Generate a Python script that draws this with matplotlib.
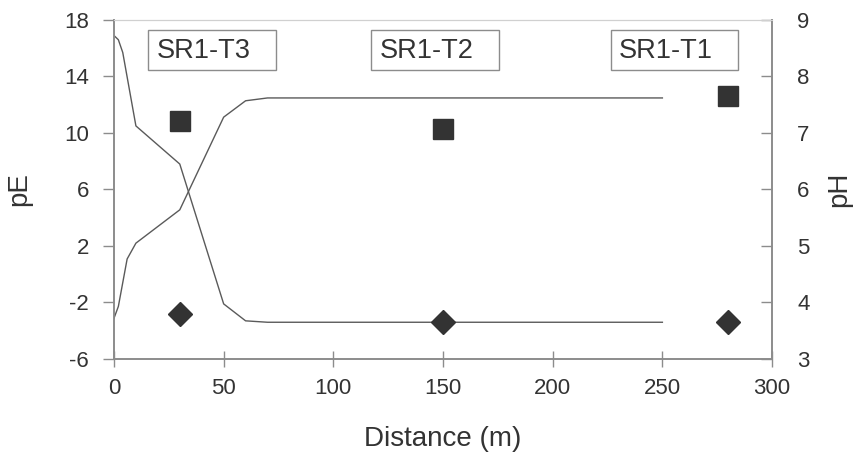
import matplotlib
matplotlib.use('Agg')
import matplotlib.pyplot as plt
from matplotlib.patches import Rectangle

plt.rcParams['font.family'] = ['Liberation Sans', 'DejaVu Sans']
plt.rcParams['axes.unicode_minus'] = False

# model curves
dist_pe = [0, 2, 4, 10, 30, 50, 60, 70, 100, 150, 200, 250]
pe_model = [16.9, 16.6, 15.7, 10.5, 7.8, -2.1, -3.3, -3.4, -3.4, -3.4, -3.4, -3.4]

dist_ph = [0, 2, 6, 10, 30, 50, 60, 70, 100, 150, 200, 250]
ph_model = [3.72, 3.93, 4.77, 5.05, 5.64, 7.28, 7.57, 7.62, 7.62, 7.62, 7.62, 7.62]

# measured points
site_x = [30, 150, 280]
pe_meas = [-2.8, -3.38, -3.38]
ph_meas = [7.21, 7.07, 7.65]

site_names = ['SR1-T3', 'SR1-T2', 'SR1-T1']
box_left = [15.7, 117.3, 226.6]

txt = '#333333'
ax_col = '#8c8c8c'

fig = plt.figure(figsize=(8.55, 4.54), dpi=100)
ax = fig.add_axes([0.1333, 0.2093, 0.7697, 0.7467])
ax2 = ax.twinx()

ax.plot(dist_pe, pe_model, color='#5a5a5a', lw=1.0, zorder=2)
ax.plot(site_x, pe_meas, ls='none', marker='D', ms=12, color='#333333', zorder=3)
ax2.plot(dist_ph, ph_model, color='#5a5a5a', lw=1.0, zorder=2)
ax2.plot(site_x, ph_meas, ls='none', marker='s', ms=14, color='#333333', zorder=3)

# site label boxes (text sits left in a wider box)
for name, bx in zip(site_names, box_left):
    ax.add_patch(Rectangle((bx, 14.46), 58, 2.83, fc='white', ec='#8c8c8c',
                           lw=1.0, zorder=4))
    ax.text(bx + 3.7, 15.8, name, ha='left', va='center', fontsize=19.5,
            color=txt, zorder=5)

ax.set_xlim(0, 300)
ax.set_ylim(-6, 18)
ax2.set_ylim(3, 9)
ax.set_xticks(range(0, 301, 50))
ax.set_yticks(range(-6, 19, 4))
ax2.set_yticks(range(3, 10))

ax.set_xlabel('Distance (m)', fontsize=20, color=txt, labelpad=19)
ax.set_ylabel('pE', fontsize=20, color=txt, labelpad=23)
ax2.set_ylabel('pH', fontsize=20, color=txt, labelpad=12)

ax.tick_params(axis='y', direction='out', length=8, width=1, color=ax_col,
               labelsize=16, labelcolor=txt, pad=10)
ax.tick_params(axis='x', direction='inout', length=12, width=1, color=ax_col,
               labelsize=16, labelcolor=txt, pad=8)
ax2.tick_params(axis='y', direction='in', length=8, width=1, color=ax_col,
                labelsize=16, labelcolor=txt, pad=18)

for a in (ax, ax2):
    for s in ('left', 'bottom', 'right'):
        a.spines[s].set_color(ax_col)
        a.spines[s].set_linewidth(1.2)
    a.spines['top'].set_color('#d0d0d0')

fig.savefig('out.png', dpi=100, facecolor='white')
